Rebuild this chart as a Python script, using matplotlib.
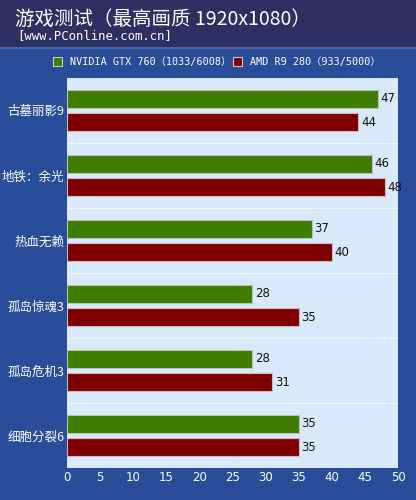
import matplotlib
matplotlib.use("Agg")
import matplotlib.pyplot as plt
import numpy as np
from matplotlib.patches import Rectangle

plt.rcParams['font.family'] = ['Noto Sans CJK SC', 'DejaVu Sans']

games = ["古墓丽影9", "地铁：余光", "热血无赖", "孤岛惊魂3", "孤岛危机3", "细胞分裂6"]
gtx760 = [47, 46, 37, 28, 28, 35]
r9_280 = [44, 48, 40, 35, 31, 35]
series_names = ["NVIDIA GTX 760（1033/6008）", "AMD R9 280（933/5000）"]
xticks = [0, 5, 10, 15, 20, 25, 30, 35, 40, 45, 50]

GREEN = "#3f7d00"
RED = "#7f0000"
BG = "#2a4d9a"
NAVY = "#2e2f62"
PLOT_BG = "#d8e9fb"
MONO = ["DejaVu Sans Mono", "Noto Sans CJK SC"]

fig = plt.figure(figsize=(4.16, 5.0), dpi=100)
fig.patch.set_facecolor(BG)

# title band
fig.add_artist(Rectangle((0, 1 - 47 / 500), 1, 47 / 500, transform=fig.transFigure,
                         facecolor=NAVY, edgecolor="none", zorder=0))
fig.add_artist(Rectangle((0, 1 - 49 / 500), 1, 2 / 500, transform=fig.transFigure,
                         facecolor="#4f64a8", edgecolor="none", zorder=0))
fig.text(15 / 416, 1 - 19 / 500, "游戏测试（最高画质 1920x1080）", color="white",
         fontsize=14, va="center", ha="left")
fig.text(17 / 416, 1 - 36 / 500, "[www.PConline.com.cn]", color="white", fontsize=8.8,
         va="center", ha="left", family=MONO)

# legend
for x0, col, name in [(53, GREEN, series_names[0]), (233, RED, series_names[1])]:
    fig.add_artist(Rectangle((x0 / 416, 1 - 66 / 500), 9 / 416, 9 / 500,
                             transform=fig.transFigure, facecolor=col,
                             edgecolor="#c8c8c8", linewidth=0.8))
    fig.text((x0 + 17) / 416, 1 - 62 / 500, name, color="white", fontsize=7.3,
             va="center", ha="left", family=MONO)

ax = fig.add_axes([67 / 416, 32 / 500, 331 / 416, 390 / 500])
ax.set_facecolor(PLOT_BG)

y = np.arange(len(games))
h = 0.28
off = 0.18
ax.barh(y - off, gtx760, height=h, color=GREEN, edgecolor="#b8c4b0", linewidth=0.8, zorder=3)
ax.barh(y + off, r9_280, height=h, color=RED, edgecolor="#d0b8b8", linewidth=0.8, zorder=3)
for yi, v in zip(y, gtx760):
    ax.text(v + 0.4, yi - off, str(v), va="center", ha="left", fontsize=8.5,
            color="#111111", family="DejaVu Sans")
for yi, v in zip(y, r9_280):
    ax.text(v + 0.4, yi + off, str(v), va="center", ha="left", fontsize=8.5,
            color="#111111", family="DejaVu Sans")

for b in y[:-1] + 0.5:
    ax.axhline(b, color="#eef5fd", linewidth=0.8, zorder=1)

ax.set_xlim(0, 50)
ax.set_ylim(len(games) - 0.5, -0.5)
ax.set_xticks(xticks)
ax.set_xticklabels([str(t) for t in xticks], color="white", fontsize=8.5, family="DejaVu Sans")
ax.set_yticks(y)
ax.set_yticklabels(games, color="white", fontsize=9)
ax.tick_params(length=0, pad=2)
for s in ax.spines.values():
    s.set_visible(False)

fig.savefig("out.png", dpi=100, facecolor=fig.get_facecolor())
